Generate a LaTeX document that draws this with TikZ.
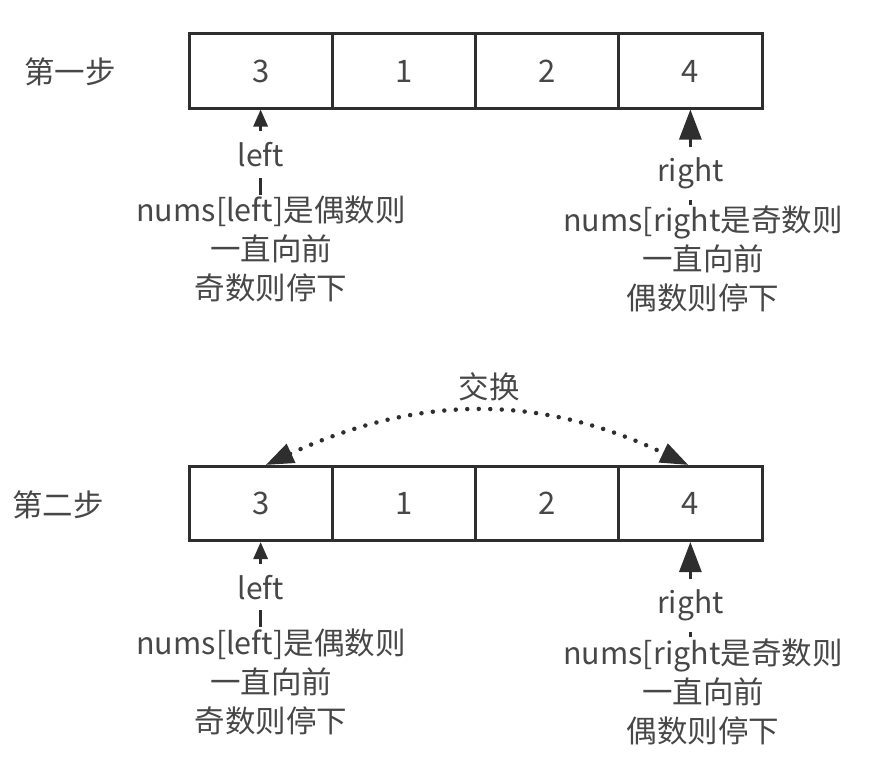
\documentclass[tikz,border=0pt]{standalone}
\usepackage{fontspec}
\setmainfont{Noto Sans CJK SC}
\usetikzlibrary{arrows.meta}
\definecolor{linegray}{HTML}{2E2E2E}
\definecolor{textgray}{HTML}{474747}
\tikzset{
  cell/.style={draw=linegray, line width=3pt, minimum width=143.25pt, minimum height=74pt, inner sep=0pt, font=\fontsize{31}{36}\selectfont, text=textgray},
  note/.style={align=center, font=\fontsize{30.5}{39}\selectfont, text=textgray, inner sep=1pt},
  ptr/.style={fill=white, font=\fontsize{30}{35}\selectfont, text=textgray, inner xsep=2pt, inner ysep=11pt},
  ptrline/.style={draw=linegray, line width=3pt},
}
\begin{document}
\begin{tikzpicture}[x=1pt,y=-1pt]
\useasboundingbox (0,0) rectangle (880,768);
% step 1
\node[note] (s1) at (70,72) {第一步};
\foreach \v [count=\i] in {3,1,2,4}
  \node[cell] (a\i) at (117.375+143.25*\i,71) {\v};
\node[note] (l1) at (271,249) {nums[left]是偶数则\\一直向前\\奇数则停下};
\node[note] (r1) at (703,259) {nums[right是奇数则\\一直向前\\偶数则停下};
\draw[ptrline, -{Triangle[width=14pt,length=17pt]}] (l1.north -| a1) -- node[ptr, pos=.47] {left} (a1.south);
\draw[ptrline, -{Triangle[width=22pt,length=30pt]}] (r1.north -| a4) -- node[ptr, pos=.33] {right} (a4.south);
% step 2
\node[note] (s2) at (58,505) {第二步};
\foreach \v [count=\i] in {3,1,2,4}
  \node[cell] (b\i) at (117.375+143.25*\i,503.5) {\v};
\node[note] (l2) at (271,681.5) {nums[left]是偶数则\\一直向前\\奇数则停下};
\node[note] (r2) at (703,691.5) {nums[right是奇数则\\一直向前\\偶数则停下};
\draw[ptrline, -{Triangle[width=14pt,length=17pt]}] (l2.north -| b1) -- node[ptr, pos=.47] {left} (b1.south);
\draw[ptrline, -{Triangle[width=22pt,length=30pt]}] (r2.north -| b4) -- node[ptr, pos=.33] {right} (b4.south);
% swap
\draw[linegray, line width=4.5pt, line cap=round, dash pattern=on 0pt off 11.5pt,
  {Triangle[width=20pt,length=28pt]}-{Triangle[width=20pt,length=28pt]}]
  ([xshift=5pt]b1.north) .. controls (420,394) and (540,394) .. ([xshift=-2pt]b4.north)
  node[note, pos=.5, above=8pt, xshift=10pt] (sw) {交换};
\end{tikzpicture}
\end{document}
